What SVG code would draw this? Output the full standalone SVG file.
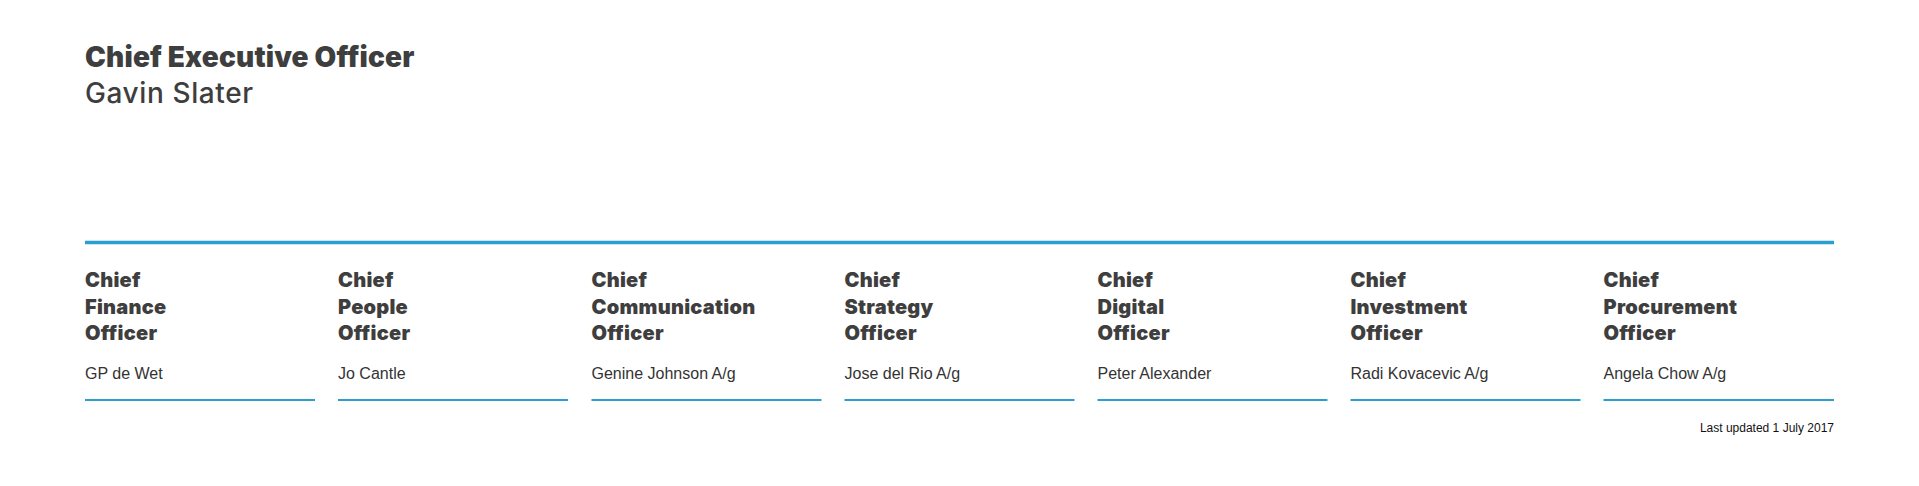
<svg xmlns="http://www.w3.org/2000/svg" width="1919" height="486" viewBox="0 0 1919 486">
<style>
.bg{fill:#ffffff}
.ttl{font-family:Inter,"Open Sans","Liberation Sans",sans-serif;font-weight:900;font-size:20px;letter-spacing:0.25px;fill:#3e3e3e}
.ceo-ttl{font-family:Inter,"Open Sans","Liberation Sans",sans-serif;font-weight:900;font-size:28px;letter-spacing:0.17px;fill:#3e3e3e}
.ceo-nm{font-family:Inter,"Open Sans","Liberation Sans",sans-serif;font-weight:500;font-size:28px;letter-spacing:0.6px;fill:#3e3e3e}
.nm{font-family:"Liberation Sans",Arial,sans-serif;font-size:16px;fill:#333333}
.note{font-family:"Liberation Sans",Arial,sans-serif;font-size:12px;fill:#111111}
.bar{stroke:#2a9fd0;stroke-width:3.5;fill:none}
.ul{stroke:#2a9fd0;stroke-width:2;fill:none}
</style>
<rect class="bg" x="0" y="0" width="1919" height="486"/>
<g id="connectors">
<line class="bar" x1="85" y1="242.5" x2="1834" y2="242.5"/>
</g>
<g id="ceo">
<text class="ceo-ttl" x="85" y="67">Chief Executive Officer</text>
<text class="ceo-nm" x="85" y="103">Gavin Slater</text>
</g>
<g id="cfo" transform="translate(85,0)">
<text class="ttl"><tspan x="0" y="287">Chief</tspan><tspan x="0" y="313.5">Finance</tspan><tspan x="0" y="340">Officer</tspan></text>
<text class="nm" x="0" y="379">GP de Wet</text>
<line class="ul" x1="0" y1="400" x2="230" y2="400"/>
</g>
<g id="cpo-people" transform="translate(338,0)">
<text class="ttl"><tspan x="0" y="287">Chief</tspan><tspan x="0" y="313.5">People</tspan><tspan x="0" y="340">Officer</tspan></text>
<text class="nm" x="0" y="379">Jo Cantle</text>
<line class="ul" x1="0" y1="400" x2="230" y2="400"/>
</g>
<g id="cco" transform="translate(591.5,0)">
<text class="ttl"><tspan x="0" y="287">Chief</tspan><tspan x="0" y="313.5">Communication</tspan><tspan x="0" y="340">Officer</tspan></text>
<text class="nm" x="0" y="379">Genine Johnson A/g</text>
<line class="ul" x1="0" y1="400" x2="230" y2="400"/>
</g>
<g id="cso" transform="translate(844.5,0)">
<text class="ttl"><tspan x="0" y="287">Chief</tspan><tspan x="0" y="313.5">Strategy</tspan><tspan x="0" y="340">Officer</tspan></text>
<text class="nm" x="0" y="379">Jose del Rio A/g</text>
<line class="ul" x1="0" y1="400" x2="230" y2="400"/>
</g>
<g id="cdo" transform="translate(1097.5,0)">
<text class="ttl"><tspan x="0" y="287">Chief</tspan><tspan x="0" y="313.5">Digital</tspan><tspan x="0" y="340">Officer</tspan></text>
<text class="nm" x="0" y="379">Peter Alexander</text>
<line class="ul" x1="0" y1="400" x2="230" y2="400"/>
</g>
<g id="cio" transform="translate(1350.5,0)">
<text class="ttl"><tspan x="0" y="287">Chief</tspan><tspan x="0" y="313.5">Investment</tspan><tspan x="0" y="340">Officer</tspan></text>
<text class="nm" x="0" y="379">Radi Kovacevic A/g</text>
<line class="ul" x1="0" y1="400" x2="230" y2="400"/>
</g>
<g id="cpo-procurement" transform="translate(1603.5,0)">
<text class="ttl"><tspan x="0" y="287">Chief</tspan><tspan x="0" y="313.5">Procurement</tspan><tspan x="0" y="340">Officer</tspan></text>
<text class="nm" x="0" y="379">Angela Chow A/g</text>
<line class="ul" x1="0" y1="400" x2="230.5" y2="400"/>
</g>
<g id="footnote">
<text class="note" x="1834" y="432" text-anchor="end">Last updated 1 July 2017</text>
</g>
</svg>
